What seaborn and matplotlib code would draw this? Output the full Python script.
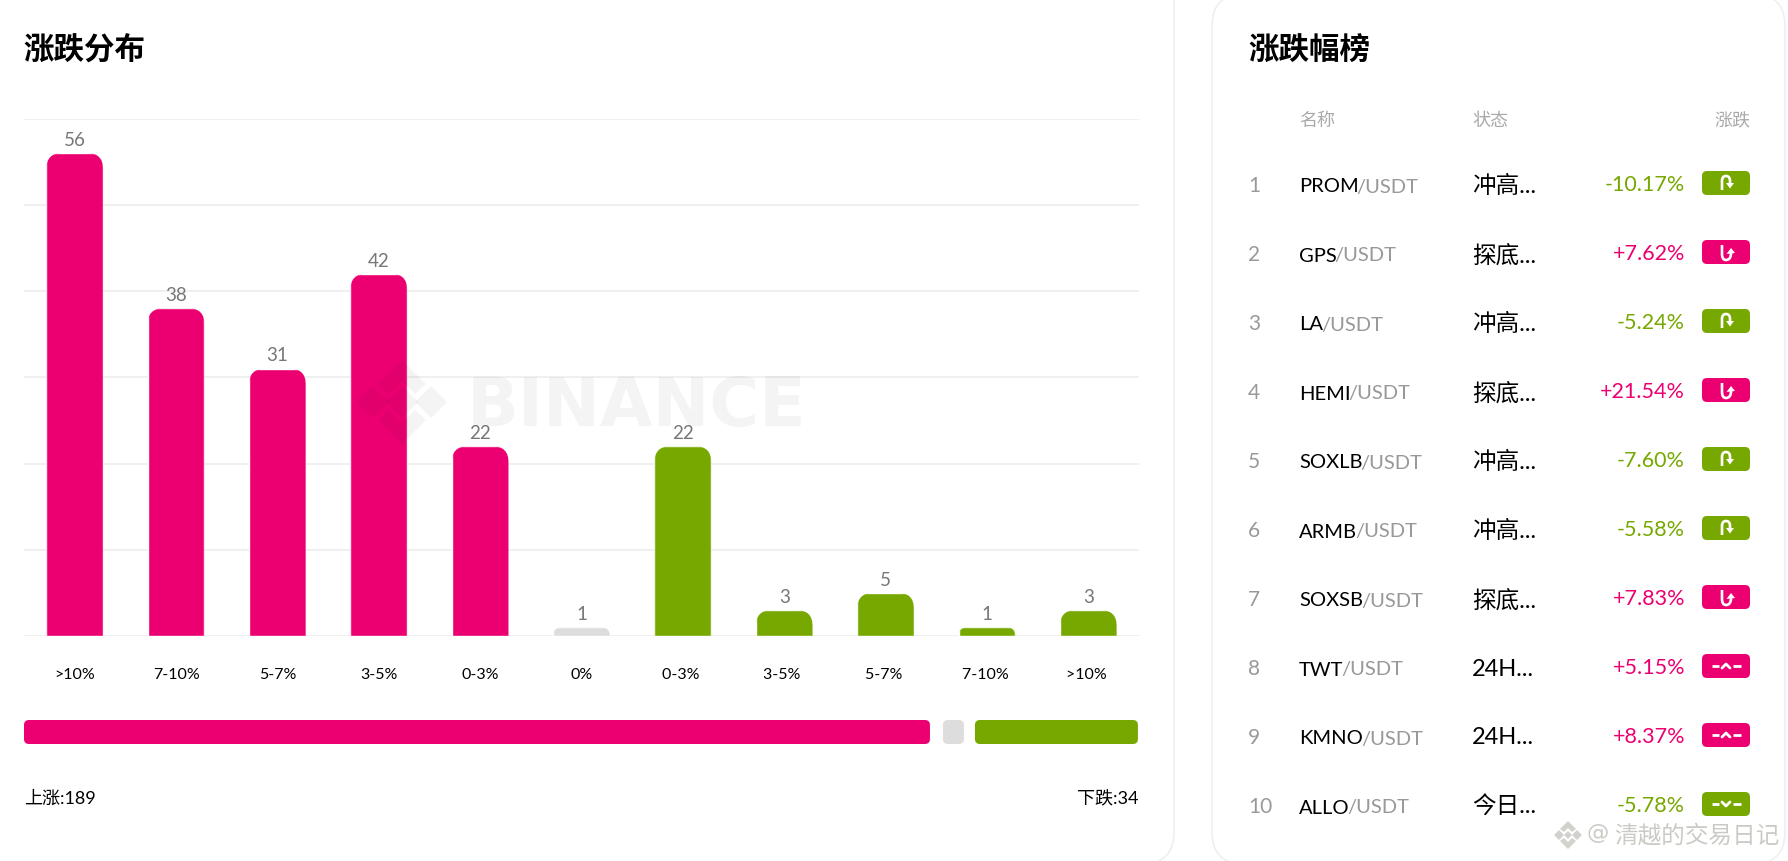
import matplotlib
matplotlib.use("Agg")
import matplotlib.pyplot as plt
from matplotlib.patches import FancyBboxPatch, PathPatch, Polygon
from matplotlib.path import Path
import pandas as pd
import seaborn as sns

# chart data
bins = [">10%", "7-10%", "5-7%", "3-5%", "0-3%", "0%", "0-3% ", "3-5% ", "5-7% ", "7-10% ", ">10% "]
counts = [56, 38, 31, 42, 22, 1, 22, 3, 5, 1, 3]
sides = ["up", "up", "up", "up", "up", "flat", "down", "down", "down", "down", "down"]
up_total = 189
flat_total = 1
down_total = 34

# table data
ranks = [1, 2, 3, 4, 5, 6, 7, 8, 9, 10]
symbols = ["PROM", "GPS", "LA", "HEMI", "SOXLB", "ARMB", "SOXSB", "TWT", "KMNO", "ALLO"]
states = ["冲高...", "探底...", "冲高...", "探底...", "冲高...", "冲高...", "探底...", "24H...", "24H...", "今日..."]
changes = ["-10.17%", "+7.62%", "-5.24%", "+21.54%", "-7.60%", "-5.58%", "+7.83%", "+5.15%", "+8.37%", "-5.78%"]
icons = ["top", "bottom", "top", "bottom", "top", "top", "bottom", "peak", "peak", "dip"]

PINK = "#EC0071"
GREEN = "#76A800"
GREY = "#DDDDDD"
FW = 1788
FH = 861

sns.set_theme(style="whitegrid", rc={"grid.color": "#EEEEEE", "grid.linewidth": 1.2})
plt.rcParams["font.family"] = ["Lato", "Noto Sans CJK SC", "DejaVu Sans"]
CJK = ["Noto Sans CJK SC", "Lato"]


def px_axes(fig, zorder):
    # full figure axes, units are pixels from the top left
    ax = fig.add_axes([0, 0, 1, 1], zorder=zorder)
    ax.set_xlim(0, FW)
    ax.set_ylim(FH, 0)
    ax.axis("off")
    ax.patch.set_alpha(0)
    return ax


def rounded(ax, x, y, w, h, r, **kw):
    box = FancyBboxPatch((x + r, y + r), w - 2 * r, h - 2 * r,
                         boxstyle=f"round,pad={r},rounding_size={r}", **kw)
    ax.add_patch(box)
    return box


def draw_icon(ax, kind, cx, cy):
    if kind in ("peak", "dip"):
        for x0, x1 in [(-14, -7), (7, 15)]:
            ax.plot([cx + x0, cx + x1], [cy, cy], color="white", lw=2, solid_capstyle="butt")
        d = -2 if kind == "peak" else 2
        ax.plot([cx - 4, cx, cx + 4], [cy - d, cy + d, cy - d], color="white", lw=2)
        return
    if kind == "top":
        verts = [(-4, 7), (-4, -2), (-4, -7), (0, -7), (4, -7), (4, -2), (4, 1)]
        head = [(0, 0), (8, 0), (4, 5.5)]
        codes = [Path.MOVETO, Path.LINETO, Path.CURVE3, Path.CURVE3, Path.CURVE3, Path.CURVE3, Path.LINETO]
    else:
        verts = [(-4, -7), (-4, 2), (-4, 8), (0, 8), (5, 8), (5, 1)]
        head = [(0.5, 2), (9, 1), (5, -4)]
        codes = [Path.MOVETO, Path.LINETO, Path.CURVE3, Path.CURVE3, Path.CURVE3, Path.CURVE3]
    ax.add_patch(PathPatch(Path([(cx + a, cy + b) for a, b in verts], codes),
                           edgecolor="white", lw=1.9, fill=False, capstyle="butt"))
    ax.add_patch(Polygon([(cx + a, cy + b) for a, b in head], color="white", lw=0))


fig = plt.figure(figsize=(FW / 100, FH / 100), dpi=100, facecolor="white")

page = px_axes(fig, 0)
rounded(page, -40, -40, 1214, 904, 32, fc="white", ec="#EFEFEF", lw=1.2)
rounded(page, 1212, -6, 573, 870, 32, fc="white", ec="#EFEFEF", lw=1.2)
page.text(23, 51, "涨跌分布", fontsize=22, fontweight="bold", color="black", family=CJK, va="center")
page.text(1248, 51, "涨跌幅榜", fontsize=22, fontweight="bold", color="black", family=CJK, va="center")

# bar chart
left, right, top, bottom = 24, 1139, 118.5, 636
ax = fig.add_axes([left / FW, 1 - bottom / FH, (right - left) / FW, (bottom - top) / FH], zorder=1)
ax.patch.set_alpha(0)
df = pd.DataFrame({"bin": bins, "count": counts, "side": sides})
sns.barplot(data=df, x="bin", y="count", hue="side", dodge=False, width=0.56, ax=ax, legend=False,
            palette={"up": PINK, "flat": GREY, "down": GREEN}, saturation=1)
ax.set_xlim(-0.5, len(bins) - 0.5)
ax.set_ylim(0, 60)
ax.set_yticks(range(0, 61, 10))
ax.set_xlabel("")
ax.set_ylabel("")
ax.tick_params(axis="y", left=False, labelleft=False)
ax.tick_params(axis="x", bottom=False, labelsize=11.5, labelcolor="black", pad=17)
ax.grid(axis="x", visible=False)
ax.set_axisbelow(True)
sns.despine(ax=ax, left=True, bottom=True)

# round the top corners of the bars
px_x = (right - left) / len(bins)
px_y = (bottom - top) / 60
for bar in ax.patches:
    h = bar.get_height()
    if h <= 0:
        continue
    x0, x1 = bar.get_x(), bar.get_x() + bar.get_width()
    r = min(16, h * px_y)
    rx, ry = r / px_x, r / px_y
    clip = Path([(x0, 0), (x0, h - ry), (x0, h), (x0 + rx, h), (x1 - rx, h), (x1, h), (x1, h - ry), (x1, 0), (x0, 0)],
                [Path.MOVETO, Path.LINETO, Path.CURVE3, Path.CURVE3, Path.LINETO, Path.CURVE3, Path.CURVE3,
                 Path.LINETO, Path.CLOSEPOLY])
    bar.set_clip_path(clip, ax.transData)
for cont in ax.containers:
    labels = [str(int(v)) if v > 0 else "" for v in cont.datavalues]
    ax.bar_label(cont, labels=labels, padding=3, fontsize=13.5, color="#777777")

# up / flat / down strip, grey one has a minimum width
strip_scale = 794 * 1.141 / up_total
x = 24
y, h = 720, 24
rounded(page, x, y, up_total * strip_scale, h, 5, fc=PINK, ec="none")
x += up_total * strip_scale + 13
rounded(page, x, y, max(flat_total * strip_scale, 21), h, 5, fc=GREY, ec="none")
x += max(flat_total * strip_scale, 21) + 11
rounded(page, x, y, down_total * strip_scale, h, 5, fc=GREEN, ec="none")
page.text(24, 799, f"上涨:{up_total}", fontsize=13, color="black", va="center")
page.text(1139, 799, f"下跌:{down_total}", fontsize=13, color="black", va="center", ha="right")

# table
page.text(1299, 121, "名称", fontsize=13, color="#AAAAAA", family=CJK, va="center")
page.text(1472, 121, "状态", fontsize=13, color="#AAAAAA", family=CJK, va="center")
page.text(1750, 121, "涨跌", fontsize=13, color="#AAAAAA", family=CJK, va="center", ha="right")
renderer = fig.canvas.get_renderer()
for i, rank in enumerate(ranks):
    cy = 186 + 69 * i
    color = PINK if changes[i].startswith("+") else GREEN
    page.text(1248, cy, str(rank), fontsize=15, color="#999999", va="center")
    name = page.text(1299, cy + 1, symbols[i], fontsize=14.5, color="black", va="center")
    bbox = name.get_window_extent(renderer)
    page.text(bbox.x1 - 2, cy + 1, "/USDT", fontsize=14.5, color="#999999", va="center")
    page.text(1472, cy, states[i], fontsize=17, color="black", va="center")
    page.text(1685, cy - 1, changes[i], fontsize=15.5, color=color, va="center", ha="right")
    rounded(page, 1702, cy - 15, 48, 24, 5, fc=color, ec="none")
    draw_icon(page, icons[i], 1726, cy - 3)

# watermarks on top of everything
over = px_axes(fig, 2)
over.text(467, 426, "BINANCE", fontsize=49, fontweight="bold", color="black", alpha=0.045, va="baseline", family="DejaVu Sans")
cx, cy = 402, 402
for pts in [[(-45, 0), (-29, -16), (-13, 0), (-29, 16)],
            [(-16, 0), (0, -16), (16, 0), (0, 16)],
            [(13, 0), (29, -16), (45, 0), (29, 16)],
            [(-24, -18), (0, -42), (24, -18), (13, -8), (0, -21), (-13, -8)],
            [(-24, 18), (0, 42), (24, 18), (13, 8), (0, 21), (-13, 8)]]:
    over.add_patch(Polygon([(cx + a, cy + b) for a, b in pts], fc="black", alpha=0.045, lw=0))
cx, cy = 1568, 835
for pts in [[(-14, 0), (-9, -5), (-4, 0), (-9, 5)],
            [(-4, 0), (0, -4), (4, 0), (0, 4)],
            [(4, 0), (9, -5), (14, 0), (9, 5)],
            [(-8, -6), (0, -14), (8, -6), (4, -3), (0, -7), (-4, -3)],
            [(-8, 6), (0, 14), (8, 6), (4, 3), (0, 7), (-4, 3)]]:
    over.add_patch(Polygon([(cx + a, cy + b) for a, b in pts], fc="#D2D2CD", lw=0))
over.text(1586, 833, "@", fontsize=16, color="#CBCBC6", va="center", family="DejaVu Sans")
over.text(1614, 836, "清越的交易日记", fontsize=17, color="#CBCBC6", va="center", family=CJK)

fig.savefig("out.png", dpi=100)
